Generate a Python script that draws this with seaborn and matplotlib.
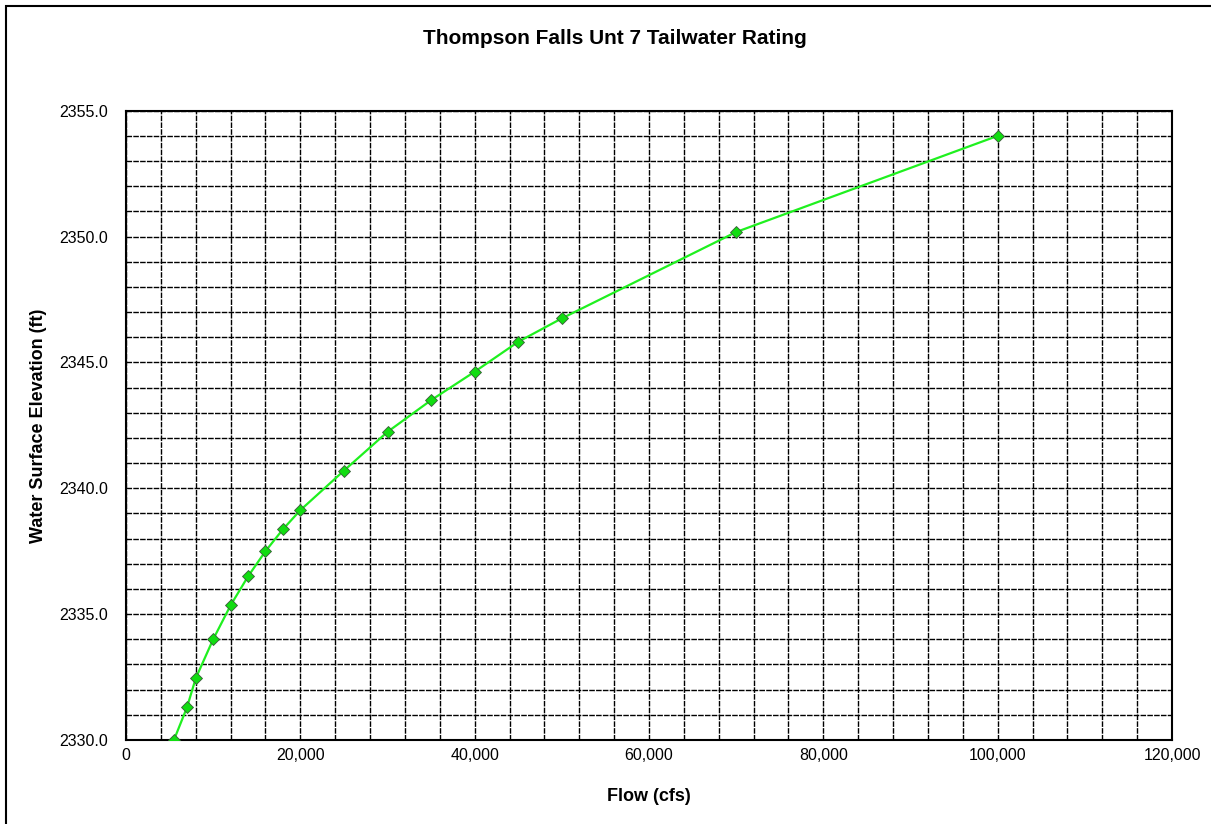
import matplotlib
matplotlib.use("Agg")
import matplotlib.pyplot as plt
import matplotlib.ticker as mticker
from matplotlib.patches import Rectangle
import seaborn as sns
import pandas as pd

# Data
flow_cfs = [5500, 7000, 8000, 10000, 12000, 14000, 16000, 18000, 20000,
            25000, 30000, 35000, 40000, 45000, 50000, 70000, 100000]
elevation_ft = [2330.0, 2331.3, 2332.45, 2334.0, 2335.35, 2336.5, 2337.5, 2338.37, 2339.13,
                2340.7, 2342.24, 2343.5, 2344.63, 2345.82, 2346.75, 2350.18, 2354.0]

title = "Thompson Falls Unt 7 Tailwater Rating"
x_label = "Flow (cfs)"
y_label = "Water Surface Elevation (ft)"

df = pd.DataFrame({"flow": flow_cfs, "elev": elevation_ft})

sns.set_style("white")
plt.rcParams["font.family"] = ["Liberation Sans", "DejaVu Sans"]
plt.rcParams["text.color"] = "black"
plt.rcParams["axes.labelcolor"] = "black"

fig = plt.figure(figsize=(12.11, 8.24), dpi=100)
ax = fig.add_axes([126 / 1211, 1 - 740 / 824, (1172 - 126) / 1211, (740 - 110.7) / 824])

sns.lineplot(data=df, x="flow", y="elev", ax=ax, color="#1ff01f", linewidth=1.6,
             marker="D", markersize=6, markerfacecolor="#11dd11",
             markeredgecolor="#3a5a3a", markeredgewidth=0.6, zorder=5,
             sort=False, estimator=None)

ax.set_xlim(0, 120000)
ax.set_ylim(2330, 2355)
ax.xaxis.set_major_locator(mticker.MultipleLocator(20000))
ax.xaxis.set_minor_locator(mticker.MultipleLocator(4000))
ax.yaxis.set_major_locator(mticker.MultipleLocator(5))
ax.yaxis.set_minor_locator(mticker.MultipleLocator(1))
ax.xaxis.set_major_formatter(mticker.FuncFormatter(lambda v, p: f"{v:,.0f}"))
ax.yaxis.set_major_formatter(mticker.FuncFormatter(lambda v, p: f"{v:.1f}"))

ax.grid(True, which="both", color="black", linewidth=1.0, linestyle=(0, (4, 0.9)))
ax.set_axisbelow(True)

ax.tick_params(axis="both", which="both", length=0, labelsize=11.5, colors="black")
ax.tick_params(axis="y", pad=13)
ax.tick_params(axis="x", pad=6)

for s in ax.spines.values():
    s.set_visible(True)
    s.set_color("black")
    s.set_linewidth(1.5)

ax.set_xlabel(x_label, fontsize=13, fontweight="bold", labelpad=18)
ax.set_ylabel(y_label, fontsize=13, fontweight="bold", labelpad=9)

fig.text(615 / 1211, 1 - 38 / 824, title, ha="center", va="center",
         fontsize=15, fontweight="bold")

# outer frame of the chart area (cropped on right and bottom)
fig.patches.append(Rectangle((6 / 1211, -0.05), 1.1, 1 - 6 / 824 + 0.05,
                             transform=fig.transFigure, fill=False,
                             edgecolor="black", linewidth=1.5, clip_on=False))

fig.savefig("out.png", dpi=100, facecolor="white")
